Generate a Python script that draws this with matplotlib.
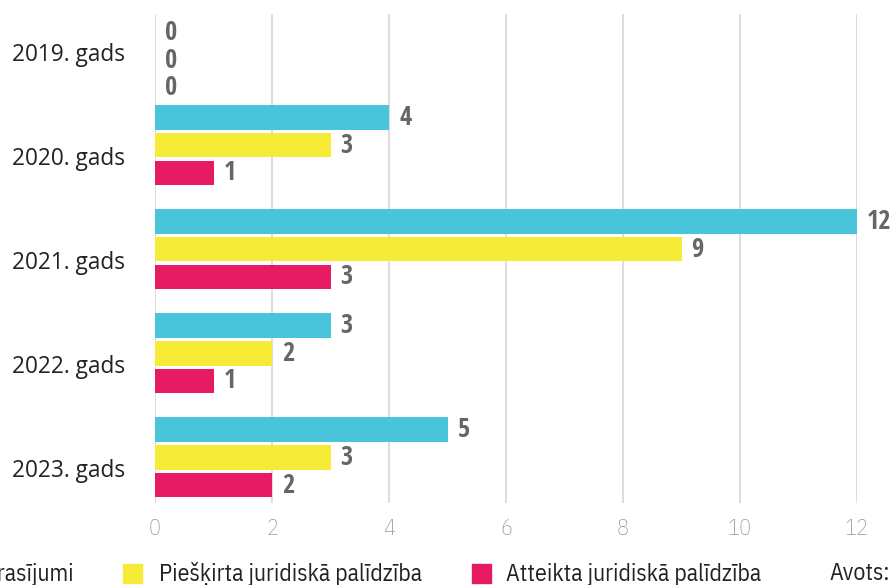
import matplotlib
matplotlib.use("Agg")
import matplotlib.pyplot as plt
from matplotlib.patches import Rectangle
from matplotlib.transforms import ScaledTranslation
from matplotlib.font_manager import FontProperties
import numpy as np

categories = ["2019. gads", "2020. gads", "2021. gads", "2022. gads", "2023. gads"]
series_names = ["Pieprasījumi", "Piešķirta juridiskā palīdzība", "Atteikta juridiskā palīdzība"]
pieprasijumi = [0, 4, 12, 3, 5]
pieskirta = [0, 3, 9, 2, 3]
atteikta = [0, 1, 3, 1, 2]
colors = ["#4AC4DA", "#F6EC38", "#E61B63"]
xticks = [0, 2, 4, 6, 8, 10, 12]
source_label = "Avots:"

COND = ["IBM Plex Sans Condensed", "DejaVu Sans"]
CAT_FONT = ["Open Sans", "DejaVu Sans"]

W, H = 891, 585
fig = plt.figure(figsize=(W / 100, H / 100), dpi=100)
renderer = fig.canvas.get_renderer()


def fit_size(sample, target_px, family, weight="normal", base=20):
    t = fig.text(0, 0, sample, fontsize=base, family=family, fontweight=weight)
    w = t.get_window_extent(renderer).width
    t.remove()
    return base * target_px / w


leg_fs = fit_size("Piešķirta juridiskā palīdzība", 264, COND)
cat_fs = fit_size("2019. gads", 113, CAT_FONT)

val_font = FontProperties(family=["Open Sans Condensed", "DejaVu Sans"], weight="bold", size=19)

ax = fig.add_axes([155 / W, (H - 503) / H, (857 - 155) / W, (503 - 14) / H])

y = np.arange(len(categories))
bar_h = 0.24
off = 0.269
data = [pieprasijumi, pieskirta, atteikta]
for k, (vals, c) in enumerate(zip(data, colors)):
    pos = y + (k - 1) * off
    ax.barh(pos, vals, height=bar_h, color=c, zorder=3)
    for yy, v in zip(pos, vals):
        dy = -19 if v == 0 else 0
        ax.annotate(str(v), xy=(v, yy), xytext=(10, dy), textcoords="offset pixels",
                    ha="left", va="center", fontproperties=val_font,
                    color="#666666", annotation_clip=False)

ax.set_xlim(0, 12)
ax.set_ylim(4.442, -0.2596)
ax.set_xticks(xticks)
ax.set_xticklabels([str(t) for t in xticks])
ax.tick_params(axis="x", length=0, pad=11, labelsize=16, labelcolor="#999999")
for lab in ax.get_xticklabels():
    lab.set_family(COND)
    lab.set_fontweight("light")
    lab.set_fontsize(16)
ax.set_yticks(y)
ax.set_yticklabels(categories, fontsize=cat_fs, color="#222222", family=CAT_FONT)
ax.tick_params(axis="y", length=0, pad=21.6)
for lab in ax.get_yticklabels():
    lab.set_transform(lab.get_transform() + ScaledTranslation(0, -11 / 100, fig.dpi_scale_trans))

ax.grid(axis="x", color="#DDDDDD", linewidth=1.5, zorder=0)
ax.grid(axis="y", visible=False)
for s in ax.spines.values():
    s.set_visible(False)

# legend row at bottom (extends beyond figure like the original)
ly = (H - 574) / H
sq = 19
sq_y = (H - 583) / H
fig.patches.append(Rectangle((123 / W, sq_y), sq / W, sq / H, transform=fig.transFigure, color=colors[1]))
fig.text(159 / W, ly, series_names[1], ha="left", va="center", fontsize=leg_fs, color="#222222", family=COND)
fig.patches.append(Rectangle((472 / W, sq_y), sq / W, sq / H, transform=fig.transFigure, color=colors[2]))
fig.text(506 / W, ly, series_names[2], ha="left", va="center", fontsize=leg_fs, color="#222222", family=COND)
t0 = fig.text(74 / W, ly, series_names[0], ha="right", va="center", fontsize=leg_fs, color="#222222", family=COND)
w0 = t0.get_window_extent(renderer).width
fig.patches.append(Rectangle(((74 - w0 - 36) / W, sq_y), sq / W, sq / H, transform=fig.transFigure, color=colors[0]))
fig.text(830 / W, ly, source_label, ha="left", va="center", fontsize=leg_fs, color="#222222", family=COND)

fig.savefig("out.png", dpi=100, facecolor="white")
